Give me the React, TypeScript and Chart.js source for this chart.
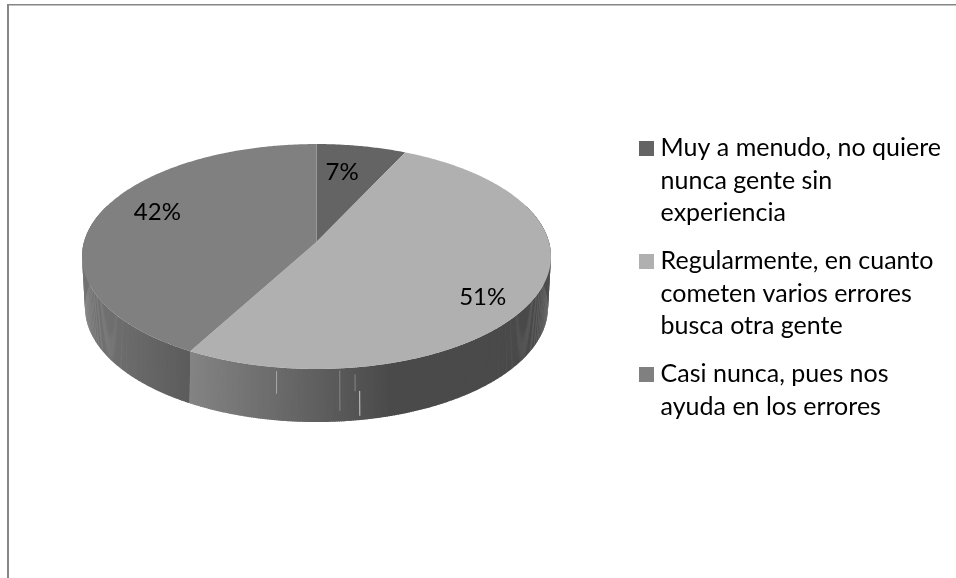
import React, { useEffect, useRef } from "react";
import { Chart, registerables } from "chart.js";

Chart.register(...registerables);

const categories: string[][] = [
  ["Muy a menudo, no quiere", "nunca gente sin", "experiencia"],
  ["Regularmente, en cuanto", "cometen varios errores", "busca otra gente"],
  ["Casi nunca, pues nos", "ayuda en los errores"],
];
const shares = [7, 51, 42];
const sliceColors = ["#646464", "#b0b0b0", "#808080"];
// Grey of the side wall at its left and right ends, per slice.
const wallGreys = [
  [90, 90],
  [132, 74],
  [112, 92],
];
const labelOffsets = [
  [-7, 0],
  [15, 19],
  [-5, -11],
];
// Thin light seams on the wall: angle in degrees, start and end along its height, grey.
const wallSeams = [
  [98.6, 0.07, 0.5, 170],
  [85, 0.04, 0.8, 135],
  [81.7, 0.13, 0.45, 135],
  [80.7, 0.45, 0.92, 205],
];

const FONT = "Lato";
const LEGEND_SIZE = 25;
const VALUE_SIZE = 24;

// Perspective disc: the top face and the narrower bottom face of the drum.
const topFace = { cx: 316.5, cy: 242, r: 232.5, a: 110.6, k: -0.129 };
const baseFace = { cx: 316.5, cy: 290, r: 229, a: 112.5, k: -0.148 };
type Face = typeof topFace;

function project(f: Face, angle: number, t = 1) {
  const u = Math.cos(angle) * t;
  const v = Math.sin(angle) * t;
  const d = 1 + f.k * v;
  return { x: f.cx + (f.r * u) / d, y: f.cy + (f.a * v) / d };
}

const swatch = (color: string) => {
  const c = document.createElement("canvas");
  c.width = 15;
  c.height = 15;
  const g = c.getContext("2d")!;
  g.fillStyle = color;
  g.fillRect(0, 0, 15, 15);
  return c;
};

const drum3d = {
  id: "drum3d",
  beforeDatasetsDraw(chart: any) {
    const { ctx } = chart;
    const arcs = chart.getDatasetMeta(0).data;
    const step = Math.PI / 360;

    // Chart frame: only the top and left rules are visible.
    ctx.save();
    ctx.fillStyle = "#868686";
    ctx.fillRect(7, 4, 949, 1.5);
    ctx.fillRect(7, 4, 2, 574);

    // Side wall, built from narrow strips along the visible front half.
    arcs.forEach((arc: any, i: number) => {
      const { startAngle, endAngle } = arc.getProps(["startAngle", "endAngle"], true);
      const from = Math.max(startAngle, -0.35);
      const to = Math.min(endAngle, Math.PI + 0.35);
      if (to <= from) return;
      const xa = project(topFace, to).x;
      const xb = project(topFace, from).x;
      const [gl, gr] = wallGreys[i];
      for (let t = from; t < to; t += step) {
        const e = Math.min(t + step * 1.5, to);
        const p1 = project(topFace, t);
        const p2 = project(topFace, e);
        const p3 = project(baseFace, e);
        const p4 = project(baseFace, t);
        const mix = Math.min(1, Math.max(0, (p1.x - xa) / Math.max(1, (xb - xa) * (i === 1 ? 0.6 : 1))));
        const g = Math.round(gl + (gr - gl) * mix);
        ctx.fillStyle = `rgb(${g},${g},${g})`;
        ctx.beginPath();
        ctx.moveTo(p1.x, p1.y);
        ctx.lineTo(p2.x, p2.y);
        ctx.lineTo(p3.x, p3.y);
        ctx.lineTo(p4.x, p4.y);
        ctx.closePath();
        ctx.fill();
      }
    });

    wallSeams.forEach(([deg, s, e, g]) => {
      const t = (deg * Math.PI) / 180;
      const a = project(topFace, t);
      const b = project(baseFace, t);
      ctx.strokeStyle = `rgb(${g},${g},${g})`;
      ctx.lineWidth = 1;
      ctx.beginPath();
      ctx.moveTo(a.x + (b.x - a.x) * s, a.y + (b.y - a.y) * s);
      ctx.lineTo(a.x + (b.x - a.x) * e, a.y + (b.y - a.y) * e);
      ctx.stroke();
    });

    // Top face.
    arcs.forEach((arc: any, i: number) => {
      const { startAngle, endAngle } = arc.getProps(["startAngle", "endAngle"], true);
      ctx.fillStyle = sliceColors[i];
      ctx.beginPath();
      const c = project(topFace, 0, 0);
      ctx.moveTo(c.x, c.y);
      for (let t = startAngle; t < endAngle; t += step) {
        const p = project(topFace, t);
        ctx.lineTo(p.x, p.y);
      }
      const last = project(topFace, endAngle);
      ctx.lineTo(last.x, last.y);
      ctx.closePath();
      ctx.fill();
    });

    // Percentage labels.
    ctx.fillStyle = "#000";
    ctx.font = `${VALUE_SIZE}px ${FONT}`;
    ctx.textAlign = "center";
    ctx.textBaseline = "middle";
    arcs.forEach((arc: any, i: number) => {
      const { startAngle, endAngle } = arc.getProps(["startAngle", "endAngle"], true);
      const p = project(topFace, (startAngle + endAngle) / 2, 0.7);
      ctx.fillText(`${shares[i]}%`, p.x + labelOffsets[i][0], p.y + labelOffsets[i][1]);
    });
    ctx.restore();
    return false;
  },
};

export default function App() {
  const ref = useRef<HTMLCanvasElement>(null);
  useEffect(() => {
    const chart = new Chart(ref.current!, {
      type: "pie",
      data: {
        labels: categories as any,
        datasets: [{ data: shares, backgroundColor: sliceColors, borderWidth: 0 }],
      },
      options: {
        animation: false,
        responsive: false,
        layout: { padding: { right: 5, top: 0, bottom: 16 } },
        plugins: {
          tooltip: { enabled: false },
          legend: {
            position: "right",
            align: "center",
            labels: {
              usePointStyle: true,
              pointStyleWidth: 4,
              boxHeight: 15,
              padding: 16,
              color: "#000",
              font: { family: FONT, size: LEGEND_SIZE, lineHeight: 1.293 },
              generateLabels: () =>
                categories.map((text, i) => ({
                  text,
                  pointStyle: swatch(sliceColors[i]),
                  fillStyle: sliceColors[i],
                  lineWidth: 0,
                  hidden: false,
                  index: i,
                })),
            },
          },
        },
      },
      plugins: [drum3d],
    } as any);
    return () => chart.destroy();
  }, []);
  return (
    <canvas
      ref={ref}
      width={956}
      height={578}
      style={{ position: "fixed", left: 0, top: 0, display: "block", background: "#fff" }}
    />
  );
}
